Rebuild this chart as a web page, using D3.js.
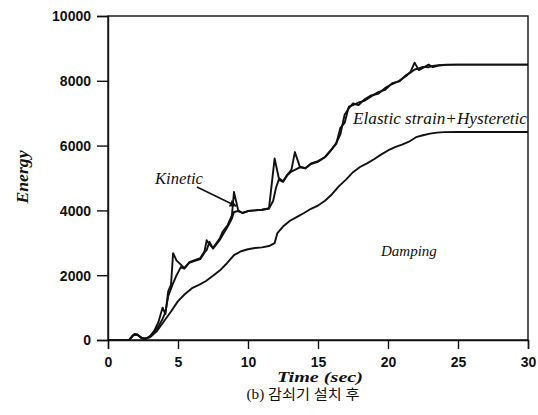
<!DOCTYPE html>
<html><head><meta charset="utf-8">
<script src="https://cdn.jsdelivr.net/npm/d3@7/dist/d3.min.js"></script>
<style>body{margin:0;background:#fff}svg{display:block}</style>
</head><body>
<svg id="c" width="538" height="415"></svg>
<script>
// Input energy (top curve, with kinetic spikes)
const inputT = [0,1.5,1.7,1.9,2.1,2.4,2.7,3.0,3.3,3.6,3.9,4.1,4.3,4.5,4.65,4.9,5.15,5.45,5.8,6.1,6.6,6.9,7.05,7.25,7.5,8.0,8.2,8.55,8.85,9.0,9.3,9.6,10.0,10.5,11.0,11.5,11.9,12.2,12.5,12.8,13.1,13.35,13.7,14.1,14.5,15.0,15.5,15.9,16.3,16.6,16.9,17.2,17.5,17.9,18.3,18.8,19.3,19.8,20.3,20.8,21.3,21.6,21.9,22.2,22.5,22.9,23.2,23.6,24.2,25,30];
const inputE = [0,0,100,190,170,60,40,120,280,550,1000,800,1500,1700,2680,2450,2350,2220,2400,2450,2530,2750,3080,2950,2840,3150,3350,3550,3850,4570,4000,3920,3980,4000,4020,4060,5600,5000,4900,5100,5250,5800,5350,5300,5450,5520,5650,5850,6080,6350,6950,7150,7300,7250,7420,7550,7600,7780,7900,8000,8150,8270,8560,8330,8400,8500,8420,8470,8490,8500,8500];
// Damping + Elastic strain + Hysteretic (middle curve)
const strainT = [0,1.5,1.7,1.9,2.1,2.4,2.7,3.0,3.3,3.6,3.9,4.1,4.3,4.6,4.9,5.2,5.45,5.8,6.1,6.6,6.9,7.05,7.25,7.5,8.0,8.2,8.55,8.85,9.0,9.3,9.6,10.0,10.5,11.0,11.5,11.8,12.0,12.2,12.5,12.8,13.1,13.35,13.7,14.1,14.5,15.0,15.5,15.9,16.3,16.6,16.9,17.2,17.5,17.9,18.3,18.8,19.3,19.8,20.3,20.8,21.3,21.6,21.9,22.2,22.5,22.9,23.2,23.6,24.2,25,30];
const strainE = [0,0,100,180,160,50,40,100,230,420,650,850,1350,1700,2000,2250,2200,2380,2430,2500,2700,2780,3030,2820,3100,3250,3500,3750,3950,3980,3920,3980,4000,4020,4060,4300,4700,4950,4880,5080,5200,5250,5330,5300,5430,5500,5640,5840,6050,6550,6700,7200,7250,7330,7380,7520,7650,7720,7930,7980,8180,8250,8350,8380,8430,8420,8460,8480,8500,8500,8500];
// Damping (lower curve)
const dampT = [0,1.5,1.8,2.1,2.5,3.0,3.5,4.0,4.5,5.0,5.5,6.0,6.5,7.0,7.5,8.0,8.5,9.0,9.5,10.0,10.5,11.0,11.5,11.9,12.1,12.5,13.0,13.5,14.0,14.5,15.0,15.5,16.0,16.5,17.0,17.5,18.0,18.5,19.0,19.5,20.0,20.5,21.0,21.5,22.0,22.5,23.0,23.5,24.0,25,30];
const dampE = [0,0,150,160,40,80,280,580,880,1200,1420,1600,1700,1820,1980,2150,2370,2620,2740,2800,2840,2860,2900,2990,3300,3500,3680,3800,3920,4050,4150,4300,4500,4750,4950,5180,5340,5450,5580,5720,5850,5950,6030,6120,6260,6320,6370,6400,6415,6420,6420];

const xTicks = [0,5,10,15,20,25,30];
const yTicks = [0,2000,4000,6000,8000,10000];
const labels = {input:"Kinetic", strain:"Elastic strain+Hysteretic", damp:"Damping"};

const svg = d3.select("#c");
const x = d3.scaleLinear().domain([0,30]).range([108,528]);
const y = d3.scaleLinear().domain([0,10000]).range([340,16]);

// frame
svg.append("rect").attr("x",108).attr("y",16).attr("width",420).attr("height",324)
  .attr("fill","none").attr("stroke","#111").attr("stroke-width",1.4);

const gx = svg.append("g").attr("transform","translate(0,340)")
  .call(d3.axisBottom(x).tickValues(xTicks).tickFormat(d3.format("d")).tickSize(9).tickPadding(8));
const gy = svg.append("g").attr("transform","translate(108,0)")
  .call(d3.axisLeft(y).tickValues(yTicks).tickFormat(d3.format("d")).tickSize(11).tickPadding(6));
[gx,gy].forEach(g=>{
  g.select(".domain").attr("stroke","#111").attr("stroke-width",1.4);
  g.selectAll(".tick line").attr("stroke","#111").attr("stroke-width",1.4);
  g.selectAll("text").attr("font-family","Liberation Sans, Arial, sans-serif")
    .attr("font-weight","bold").attr("font-size",14).attr("fill","#111");
});
gy.selectAll("text").attr("dy","0.35em");

const line = d3.line().x(d=>x(d[0])).y(d=>y(d[1]));
const series = [[inputT,inputE],[strainT,strainE],[dampT,dampE]];
series.forEach(([t,e])=>{
  svg.append("path").datum(t.map((v,i)=>[v,e[i]]))
    .attr("d",line).attr("fill","none").attr("stroke","#111")
    .attr("stroke-width",1.9).attr("stroke-linejoin","round");
});

const serif = "Liberation Serif, Times New Roman, serif";
// axis titles
svg.append("text").attr("x",320).attr("y",382).attr("text-anchor","middle")
  .attr("font-family",serif).attr("font-weight","bold").attr("font-style","italic")
  .attr("font-size",14).attr("textLength",86).attr("lengthAdjust","spacingAndGlyphs")
  .attr("fill","#111").text("Time (sec)");
svg.append("text").attr("transform","translate(28,177) rotate(-90)").attr("text-anchor","middle")
  .attr("font-family",serif).attr("font-weight","bold").attr("font-style","italic")
  .attr("font-size",17).attr("textLength",53).attr("lengthAdjust","spacingAndGlyphs")
  .attr("fill","#111").text("Energy");
svg.append("text").attr("x",303).attr("y",399).attr("text-anchor","middle")
  .attr("font-family","Liberation Serif, Noto Sans CJK KR, serif")
  .attr("font-size",14).attr("textLength",113).attr("lengthAdjust","spacingAndGlyphs")
  .attr("fill","#111").text("(b) 감쇠기 설치 후");

// region labels
const lab = (txt,x0,y0,size,len)=>{
  const t = svg.append("text").attr("x",x0).attr("y",y0)
    .attr("font-family",serif).attr("font-style","italic").attr("font-size",size)
    .attr("fill","#111").text(txt);
  if (len) t.attr("textLength",len).attr("lengthAdjust","spacingAndGlyphs");
};
lab(labels.input,155,184,16,48);
lab(labels.strain,353,124,16,174);
lab(labels.damp,381,256,15);

// arrow
svg.append("defs").append("marker").attr("id","ah").attr("viewBox","0 0 10 10")
  .attr("refX",9).attr("refY",5).attr("markerWidth",9).attr("markerHeight",7)
  .attr("markerUnits","userSpaceOnUse").attr("orient","auto")
  .append("path").attr("d","M0,0L10,5L0,10z").attr("fill","#111");
svg.append("line").attr("x1",197).attr("y1",187).attr("x2",236).attr("y2",206)
  .attr("stroke","#111").attr("stroke-width",1.6).attr("marker-end","url(#ah)");
</script>
</body></html>
